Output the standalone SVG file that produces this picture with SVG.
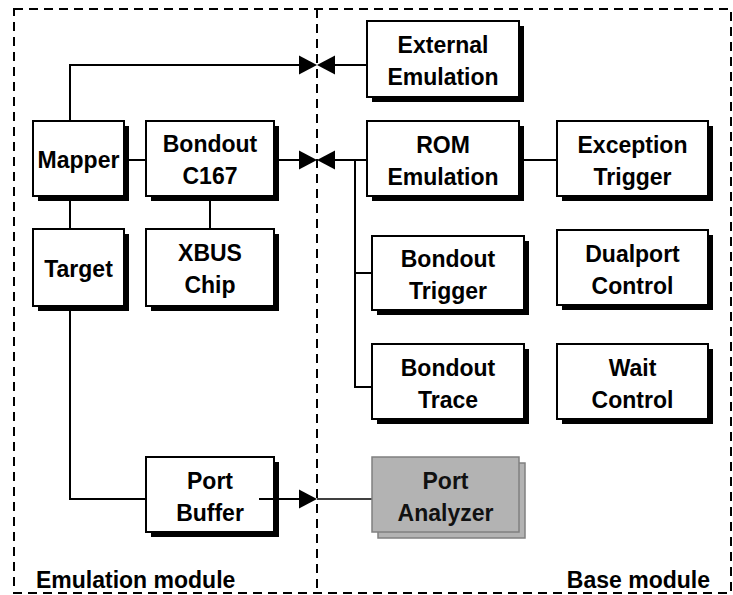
<svg xmlns="http://www.w3.org/2000/svg" width="733" height="595" viewBox="0 0 733 595">
<defs>
<style>
.frame{fill:none;stroke:#000;stroke-width:2;stroke-dasharray:9 6}
.box{fill:#fff;stroke:#000;stroke-width:2}
.shadow{fill:#000}
.gbox{fill:#b3b3b3;stroke:#808080;stroke-width:1.5}
.wire{fill:none;stroke:#000;stroke-width:2}
.thin{fill:none;stroke:#000;stroke-width:1.3}
.arrow{fill:#000}
text{font-family:"Liberation Sans",Arial,Helvetica,sans-serif;font-weight:bold;font-size:23px;fill:#000;text-anchor:middle}
.lbl{text-anchor:start}
.lblr{text-anchor:end}
</style>
</defs>
<rect width="733" height="595" fill="#fff"/>
<g id="frame">
<rect class="frame" x="14" y="9" width="717" height="584"/>
<line class="frame" x1="317" y1="9" x2="317" y2="593"/>
<text class="lbl" x="36" y="588">Emulation module</text>
<text class="lblr" x="710" y="588">Base module</text>
</g>
<g id="connectors">
<polyline class="wire" points="70,121 70,65 300,65"/>
<line class="wire" x1="333" y1="65" x2="367" y2="65"/>
<polygon class="arrow" points="299,55.5 317,65 299,74.5"/>
<polygon class="arrow" points="335,55.5 317,65 335,74.5"/>
<line class="wire" x1="274" y1="160" x2="300" y2="160"/>
<line class="wire" x1="333" y1="160" x2="367" y2="160"/>
<polygon class="arrow" points="299,150.5 317,160 299,169.5"/>
<polygon class="arrow" points="335,150.5 317,160 335,169.5"/>
<polyline class="wire" points="355,160 355,387 372,387"/>
<line class="wire" x1="355" y1="273" x2="372" y2="273"/>
<line class="wire" x1="519" y1="160" x2="557" y2="160"/>
<line class="wire" x1="70" y1="196" x2="70" y2="229"/>
<line class="wire" x1="210" y1="196" x2="210" y2="229"/>
<line class="wire" x1="124" y1="160" x2="146" y2="160"/>
<polyline class="wire" points="70,306 70,499 146,499"/>
<line class="thin" x1="317" y1="499" x2="372" y2="499"/>
</g>
<g id="mapper"><rect class="shadow" x="38" y="126" width="91" height="75"/><rect class="box" x="33" y="121" width="91" height="75"/><text x="78.5" y="168">Mapper</text></g>
<g id="bondout-c167"><rect class="shadow" x="151" y="126" width="128" height="75"/><rect class="box" x="146" y="121" width="128" height="75"/><text x="210" y="152">Bondout</text><text x="210" y="184">C167</text></g>
<g id="external-emulation"><rect class="shadow" x="372" y="26" width="152" height="76"/><rect class="box" x="367" y="21" width="152" height="76"/><text x="443" y="53">External</text><text x="443" y="85">Emulation</text></g>
<g id="rom-emulation"><rect class="shadow" x="372" y="126" width="152" height="75"/><rect class="box" x="367" y="121" width="152" height="75"/><text x="443" y="152.5">ROM</text><text x="443" y="184.5">Emulation</text></g>
<g id="exception-trigger"><rect class="shadow" x="562" y="126" width="151" height="75"/><rect class="box" x="557" y="121" width="151" height="75"/><text x="632.5" y="152.5">Exception</text><text x="632.5" y="184.5">Trigger</text></g>
<g id="target"><rect class="shadow" x="38" y="234" width="91" height="77"/><rect class="box" x="33" y="229" width="91" height="77"/><text x="78.5" y="276.5">Target</text></g>
<g id="xbus-chip"><rect class="shadow" x="151" y="234" width="128" height="77"/><rect class="box" x="146" y="229" width="128" height="77"/><text x="210" y="261">XBUS</text><text x="210" y="293">Chip</text></g>
<g id="bondout-trigger"><rect class="shadow" x="377" y="241" width="152" height="74"/><rect class="box" x="372" y="236" width="152" height="74"/><text x="448" y="267">Bondout</text><text x="448" y="299">Trigger</text></g>
<g id="dualport-control"><rect class="shadow" x="562" y="235" width="151" height="75"/><rect class="box" x="557" y="230" width="151" height="75"/><text x="632.5" y="261.5">Dualport</text><text x="632.5" y="293.5">Control</text></g>
<g id="bondout-trace"><rect class="shadow" x="377" y="349" width="152" height="75"/><rect class="box" x="372" y="344" width="152" height="75"/><text x="448" y="375.5">Bondout</text><text x="448" y="407.5">Trace</text></g>
<g id="wait-control"><rect class="shadow" x="562" y="349" width="151" height="75"/><rect class="box" x="557" y="344" width="151" height="75"/><text x="632.5" y="375.5">Wait</text><text x="632.5" y="407.5">Control</text></g>
<g id="port-buffer"><rect class="shadow" x="151" y="462" width="128" height="75"/><rect class="box" x="146" y="457" width="128" height="75"/><text x="210" y="488.5">Port</text><text x="210" y="520.5">Buffer</text>
<line class="wire" x1="259" y1="499" x2="300" y2="499"/><polygon class="arrow" points="299,489.5 317,499 299,508.5"/></g>
<g id="port-analyzer"><rect class="gbox" x="378" y="463" width="147" height="75"/><rect class="gbox" x="372" y="457" width="147" height="75"/><text x="445.5" y="488.5" style="fill:#111">Port</text><text x="445.5" y="520.5" style="fill:#111">Analyzer</text></g>
</svg>
